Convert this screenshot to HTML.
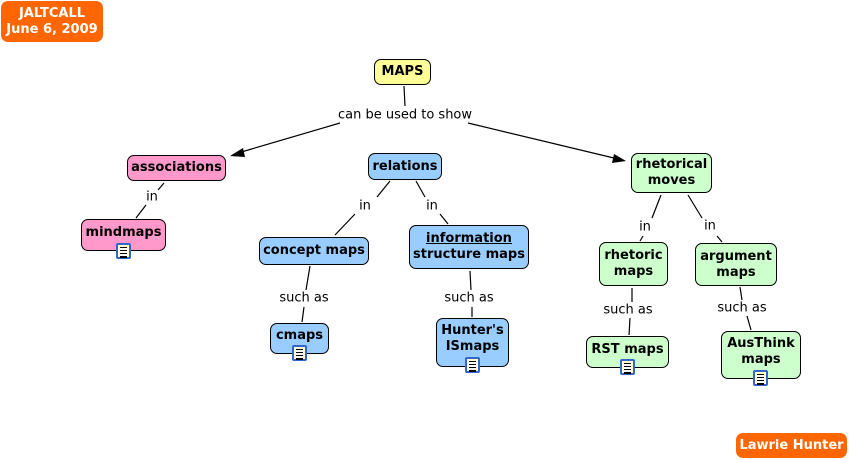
<!DOCTYPE html>
<html><head><meta charset="utf-8"><style>
body{margin:0;width:851px;height:460px;background:#fff;position:relative;overflow:hidden;font-family:"DejaVu Sans","Liberation Sans",sans-serif;}
.n{position:absolute;box-sizing:border-box;border:1px solid #000;border-radius:7px;font-weight:bold;font-size:13px;line-height:16px;text-align:center;display:flex;align-items:center;justify-content:center;color:#000;}
.p{background:#ff99cc}.b{background:#99ccff}.g{background:#ccffcc}
.o{background:#ff6600;color:#fff;border:none;}
.l{position:absolute;font-size:13px;transform:translate(-50%,-50%);white-space:nowrap;color:#000;}
.ic{position:absolute;width:15px;height:16px;box-sizing:border-box;border:2px solid #3366cc;background:#ffffcc;border-radius:2px;}
.ic::after{content:"";position:absolute;left:2px;top:2px;width:7px;height:9px;border-top:1px solid #000;border-bottom:1px solid #000;background:repeating-linear-gradient(#fff 0 2px,#000 2px 3px);}
svg{position:absolute;left:0;top:0}
</style></head><body>
<svg width="851" height="460"><g stroke="#000" stroke-width="1.2" fill="none">
<line x1="404" y1="86" x2="405" y2="106"/>
<line x1="340" y1="123" x2="238" y2="153"/>
<line x1="468" y1="123" x2="618" y2="159"/>
<line x1="164" y1="183" x2="158" y2="190"/><line x1="146" y1="205" x2="136" y2="218"/>
<line x1="390" y1="181" x2="377" y2="197"/><line x1="355" y1="214" x2="335" y2="235"/>
<line x1="416" y1="181" x2="425" y2="197"/><line x1="440" y1="214" x2="448" y2="224"/>
<line x1="661" y1="195" x2="652" y2="218"/><line x1="643" y1="236" x2="640" y2="241"/>
<line x1="688" y1="195" x2="702" y2="218"/><line x1="717" y1="236" x2="722" y2="242"/>
<line x1="310" y1="266" x2="306" y2="290"/><line x1="304" y1="307" x2="302" y2="322"/>
<line x1="470" y1="271" x2="471" y2="290"/><line x1="472" y1="307" x2="472" y2="317"/>
<line x1="632" y1="288" x2="632" y2="302"/><line x1="630" y1="318" x2="629" y2="335"/>
<line x1="740" y1="287" x2="742" y2="300"/><line x1="747" y1="316" x2="751" y2="330"/>
</g>
<polygon points="230,156 243,148 245,157" fill="#000"/>
<polygon points="626,161 612,163 614,154" fill="#000"/>
</svg>
<div class="n o" style="left:1px;top:1px;width:102px;height:41px">JALTCALL<br>June 6, 2009</div>
<div class="n o" style="left:736px;top:433px;width:111px;height:25px">Lawrie Hunter</div>
<div class="n" style="left:374px;top:59px;width:57px;height:26px;background:#ffff99">MAPS</div>
<div class="l" style="left:405px;top:115px">can be used to show</div>
<div class="n p" style="left:127px;top:155px;width:99px;height:26px">associations</div>
<div class="n b" style="left:368px;top:153px;width:74px;height:27px">relations</div>
<div class="n g" style="left:631px;top:153px;width:81px;height:40px">rhetorical<br>moves</div>
<div class="n p" style="left:81px;top:219px;width:85px;height:32px;align-items:flex-start;padding-top:5px">mindmaps</div>
<div class="n b" style="left:259px;top:237px;width:110px;height:28px">concept maps</div>
<div class="n b" style="left:409px;top:225px;width:120px;height:44px"><span><u>information</u><br>structure maps</span></div>
<div class="n g" style="left:599px;top:242px;width:69px;height:44px">rhetoric<br>maps</div>
<div class="n g" style="left:695px;top:243px;width:82px;height:43px">argument<br>maps</div>
<div class="n b" style="left:270px;top:323px;width:59px;height:31px;align-items:flex-start;padding-top:4px">cmaps</div>
<div class="n b" style="left:436px;top:318px;width:73px;height:49px;align-items:flex-start;padding-top:4px">Hunter's<br>ISmaps</div>
<div class="n g" style="left:586px;top:336px;width:83px;height:32px;align-items:flex-start;padding-top:5px">RST maps</div>
<div class="n g" style="left:721px;top:331px;width:80px;height:48px;align-items:flex-start;padding-top:4px">AusThink<br>maps</div>
<div class="l" style="left:152px;top:197px">in</div>
<div class="l" style="left:365px;top:206px">in</div>
<div class="l" style="left:432px;top:206px">in</div>
<div class="l" style="left:645px;top:227px">in</div>
<div class="l" style="left:710px;top:226px">in</div>
<div class="l" style="left:304px;top:298px">such as</div>
<div class="l" style="left:469px;top:298px">such as</div>
<div class="l" style="left:628px;top:310px">such as</div>
<div class="l" style="left:742px;top:308px">such as</div>
<div class="ic" style="left:116px;top:243px"></div>
<div class="ic" style="left:292px;top:345px"></div>
<div class="ic" style="left:465px;top:357px"></div>
<div class="ic" style="left:620px;top:359px"></div>
<div class="ic" style="left:753px;top:370px"></div>
</body></html>
